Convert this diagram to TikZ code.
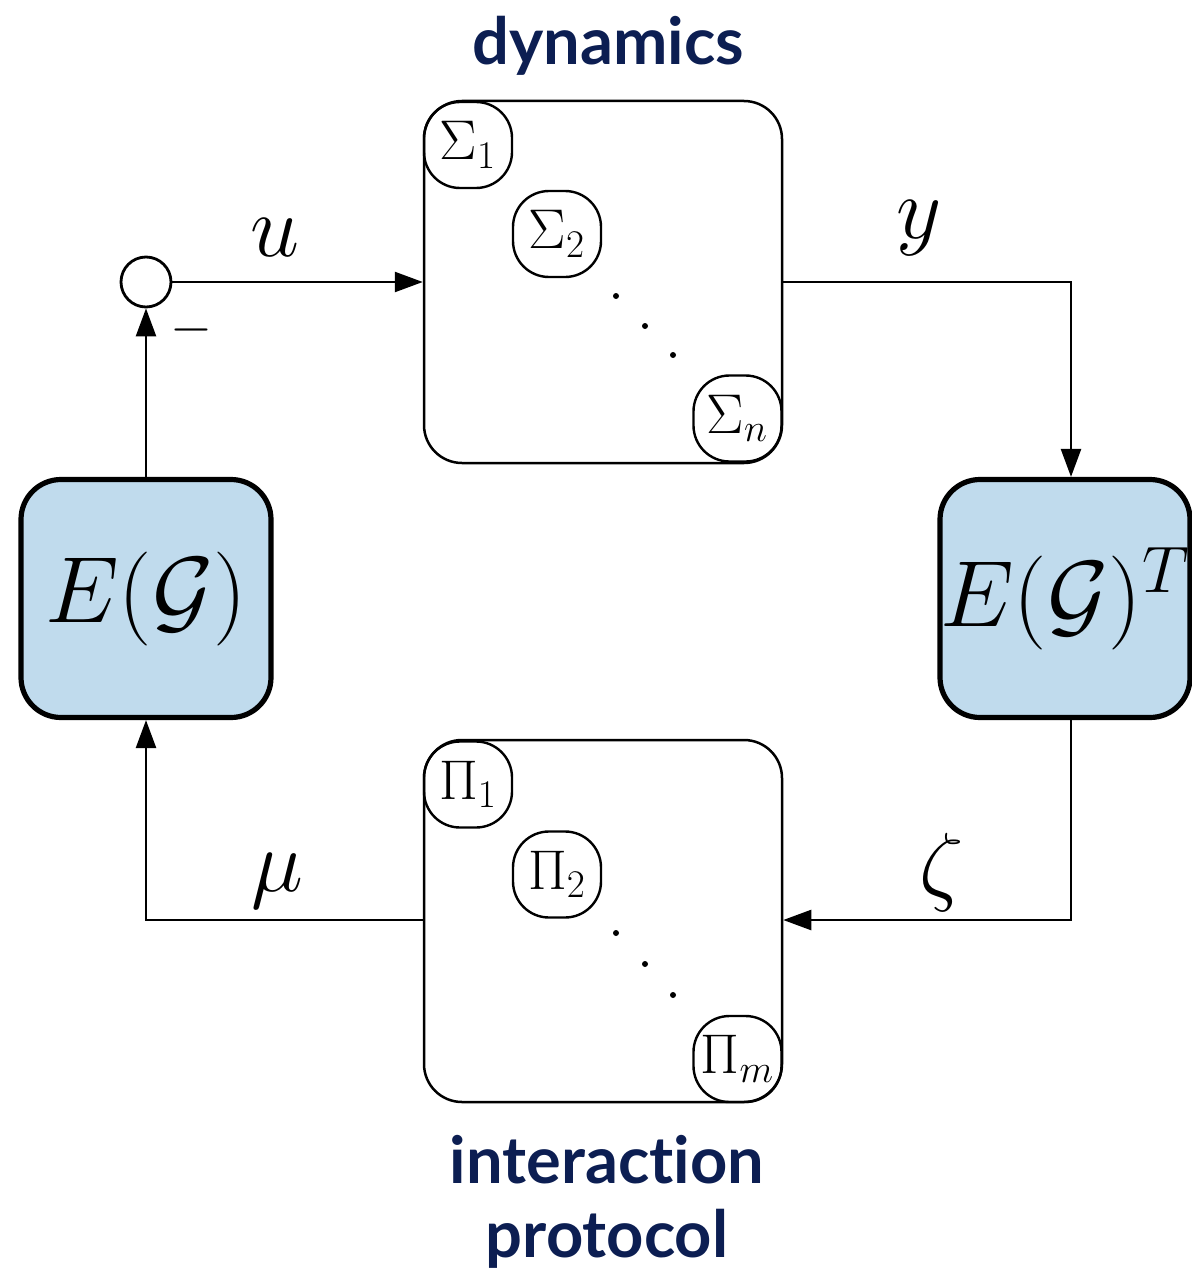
\RequirePackage{fix-cm}
\documentclass[tikz,border=0pt]{standalone}
\usepackage{fontspec}
\newfontfamily\titlefont{Lato}[Ligatures=NoCommon]
\usetikzlibrary{arrows.meta}
\definecolor{eblue}{RGB}{192,219,237}
\definecolor{navy}{RGB}{12,30,82}
\begin{document}
\begin{tikzpicture}[x=0.5pt,y=-0.5pt,
  bigbox/.style={draw, line width=1.25pt, rounded corners=19pt, minimum width=179pt, minimum height=181pt, inner sep=0pt},
  subbox/.style={draw, line width=1.2pt, rounded corners=18pt, inner sep=0pt, minimum width=44pt, minimum height=43pt, font=\fontsize{28}{30}\selectfont},
  gbox/.style={draw, line width=2.6pt, fill=eblue, rounded corners=20pt, minimum width=125pt, minimum height=119pt, inner sep=0pt, font=\fontsize{47}{50}\selectfont},
  conn/.style={line width=1.25pt, -{Triangle[length=14pt,width=10pt]}},
  lbl/.style={font=\fontsize{44}{46}\selectfont, inner sep=0pt},
  ttl/.style={text=navy, font=\titlefont\bfseries\fontsize{32.5}{37}\selectfont, inner sep=0pt, anchor=base}]
\useasboundingbox (0,0) rectangle (1192,1279);

% main boxes
\node[bigbox] (dyn) at (603,282) {};
\node[bigbox] (inter) at (603,921) {};
\node[gbox] (EG) at (146,598.5) {$E(\mathcal{G})$};
\node[gbox] (EGT) at (1065,598.5) {$E(\mathcal{G})^T$};

% sub-blocks of dynamics
\node[subbox] (s1) at (468,145) {$\Sigma_1$};
\node[subbox] (s2) at (557,234) {$\Sigma_2$};
\node[subbox] (sn) at (737.5,418.5) {$\Sigma_n$};
\fill (616,296) circle (1.5pt);
\fill (645,326) circle (1.5pt);
\fill (673,355) circle (1.5pt);

% sub-blocks of interaction protocol
\node[subbox] (p1) at (468,784.5) {$\Pi_1$};
\node[subbox] (p2) at (557,874.5) {$\Pi_2$};
\node[subbox] (pm) at (737.5,1059) {$\Pi_m$};
\fill (616,933) circle (1.5pt);
\fill (645,964) circle (1.5pt);
\fill (673,995) circle (1.5pt);

% summing junction
\node[draw, circle, line width=1.4pt, minimum size=25pt, inner sep=0pt] (sum) at (146,282) {};
\node[inner sep=0pt, font=\fontsize{27}{29}\selectfont] (minus) at (191,330) {$-$};

% corner points
\coordinate (c1) at (1071,282);
\coordinate (c2) at (1071,920);
\coordinate (c3) at (146,920);

% connectors
\draw[conn] (sum.east) -- (sum -| dyn.west);
\draw[conn] (EG.north) -- (sum.south);
\draw[conn] (dyn.east) -- (c1) -- (c1 |- EGT.north);
\draw[conn] (c1 |- EGT.south) -- (c2) -- (c2 -| inter.east);
\draw[conn] (inter.west |- c3) -- (c3) -- (EG.south);

% signal labels
\node[lbl] (lu) at (275,238) {$u$};
\node[lbl] (ly) at (919,228) {$y$};
\node[lbl] (lz) at (942,872) {$\zeta$};
\node[lbl] (lm) at (277,881) {$\mu$};

% titles
\node[ttl] (tdyn) at (608,65) {dynamics};
\node[ttl] (tint1) at (607,1183) {interaction};
\node[ttl] (tint2) at (607,1257) {protocol};
\end{tikzpicture}
\end{document}
